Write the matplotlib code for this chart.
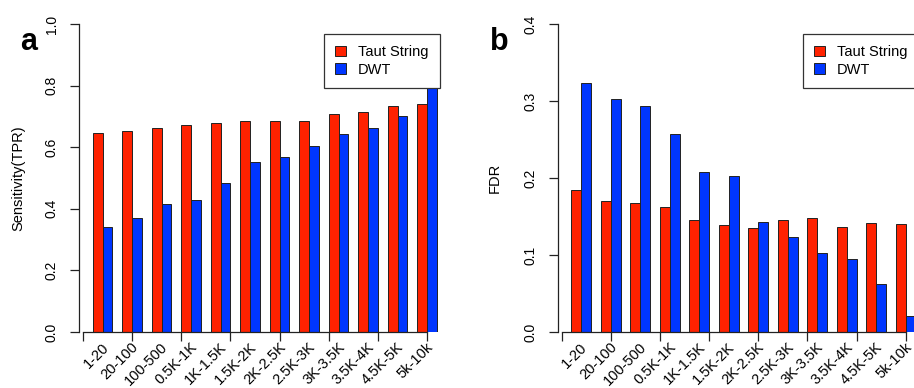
import numpy as np
import matplotlib
matplotlib.use("Agg")
import matplotlib.pyplot as plt

plt.rcParams['font.family'] = ['Liberation Sans', 'DejaVu Sans']

# size bins (x categories)
bins = ["1-20", "20-100", "100-500", "0.5K-1K", "1K-1.5K", "1.5K-2K",
        "2K-2.5K", "2.5K-3K", "3K-3.5K", "3.5K-4K", "4.5K-5K", "5k-10k"]

# panel a: sensitivity (TPR)
tpr_taut = [0.647, 0.653, 0.661, 0.671, 0.679, 0.684, 0.684, 0.686, 0.707, 0.713, 0.734, 0.741]
tpr_dwt = [0.341, 0.370, 0.416, 0.429, 0.483, 0.552, 0.567, 0.604, 0.644, 0.661, 0.700, 0.800]

# panel b: false discovery rate
fdr_taut = [0.184, 0.170, 0.168, 0.162, 0.146, 0.139, 0.135, 0.145, 0.148, 0.136, 0.142, 0.140]
fdr_dwt = [0.324, 0.303, 0.293, 0.257, 0.208, 0.202, 0.143, 0.124, 0.103, 0.095, 0.062, 0.021]

RED = '#FF2200'
BLUE = '#0036FF'

W, H = 914, 388
fig = plt.figure(figsize=(W / 100, H / 100), dpi=100)

def px_axes(left, bottom_px, width, height):
    return fig.add_axes([left / W, bottom_px / H, width / W, height / H])

def draw_panel(ax, taut, dwt, ymax, yticks, ylabel, label_x):
    idx = np.arange(len(bins))
    # R barplot(beside=TRUE) layout: space 1 before each group, bars width 1
    x_red = 1 + 3 * idx
    x_blue = 2 + 3 * idx
    ax.bar(x_red, taut, width=1, align='edge', color=RED,
           edgecolor='#222222', linewidth=0.7, label='Taut String', zorder=2)
    ax.bar(x_blue, dwt, width=1, align='edge', color=BLUE,
           edgecolor='#222222', linewidth=0.7, label='DWT', zorder=2)

    ax.set_xlim(-0.4, 37.4)
    ax.set_ylim(0, ymax)
    for s in ['top', 'right']:
        ax.spines[s].set_visible(False)
    ax.spines['left'].set_bounds(0, ymax)
    ax.spines['bottom'].set_bounds(0, 35)
    for s in ['left', 'bottom']:
        ax.spines[s].set_linewidth(0.9)
        ax.spines[s].set_color('#222222')

    ax.set_xticks(np.arange(0, 36, 5))
    ax.set_xticklabels([])
    ax.set_yticks(yticks)
    ax.set_yticklabels([f"{t:.1f}" for t in yticks])
    ax.tick_params(axis='both', direction='out', length=6.5, width=0.9,
                   color='#222222', labelsize=10)
    ax.tick_params(axis='y', pad=8)
    for lab in ax.get_yticklabels():
        lab.set_rotation(90)
        lab.set_va('center')
        lab.set_ha('right')

    for c, name in zip(x_red + 1, bins):
        ax.text(c + 0.4, -0.042, name, transform=ax.get_xaxis_transform(),
                rotation=45, ha='right', va='center', rotation_mode='anchor',
                fontsize=10.5)

    ax.set_ylabel(ylabel, fontsize=10.5, va='center')
    ax.yaxis.set_label_coords(label_x, 0.5)

    leg = ax.legend(loc='upper left', bbox_to_anchor=(0.659, 0.9675),
                    borderaxespad=0, fancybox=False, framealpha=1,
                    edgecolor='#333333', fontsize=10.5, handlelength=0.8,
                    handleheight=0.75, handletextpad=0.8, labelspacing=0.25,
                    borderpad=0.75)
    leg.get_frame().set_linewidth(0.9)
    leg.set_zorder(5)

ax_a = px_axes(79, 56, 371.6, 308)
draw_panel(ax_a, tpr_taut, tpr_dwt, 1.0, [0.0, 0.2, 0.4, 0.6, 0.8, 1.0],
           'Sensitivity(TPR)', -0.164)

ax_b = px_axes(557.7, 56, 371.6, 308)
draw_panel(ax_b, fdr_taut, fdr_dwt, 0.4, [0.0, 0.1, 0.2, 0.3, 0.4],
           'FDR', -0.169)

fig.text(20 / W, (H - 50) / H, 'a', fontsize=22, fontweight='bold',
         ha='left', va='baseline')
fig.text(490 / W, (H - 50) / H, 'b', fontsize=22, fontweight='bold',
         ha='left', va='baseline')

fig.savefig('out.png', dpi=100)
